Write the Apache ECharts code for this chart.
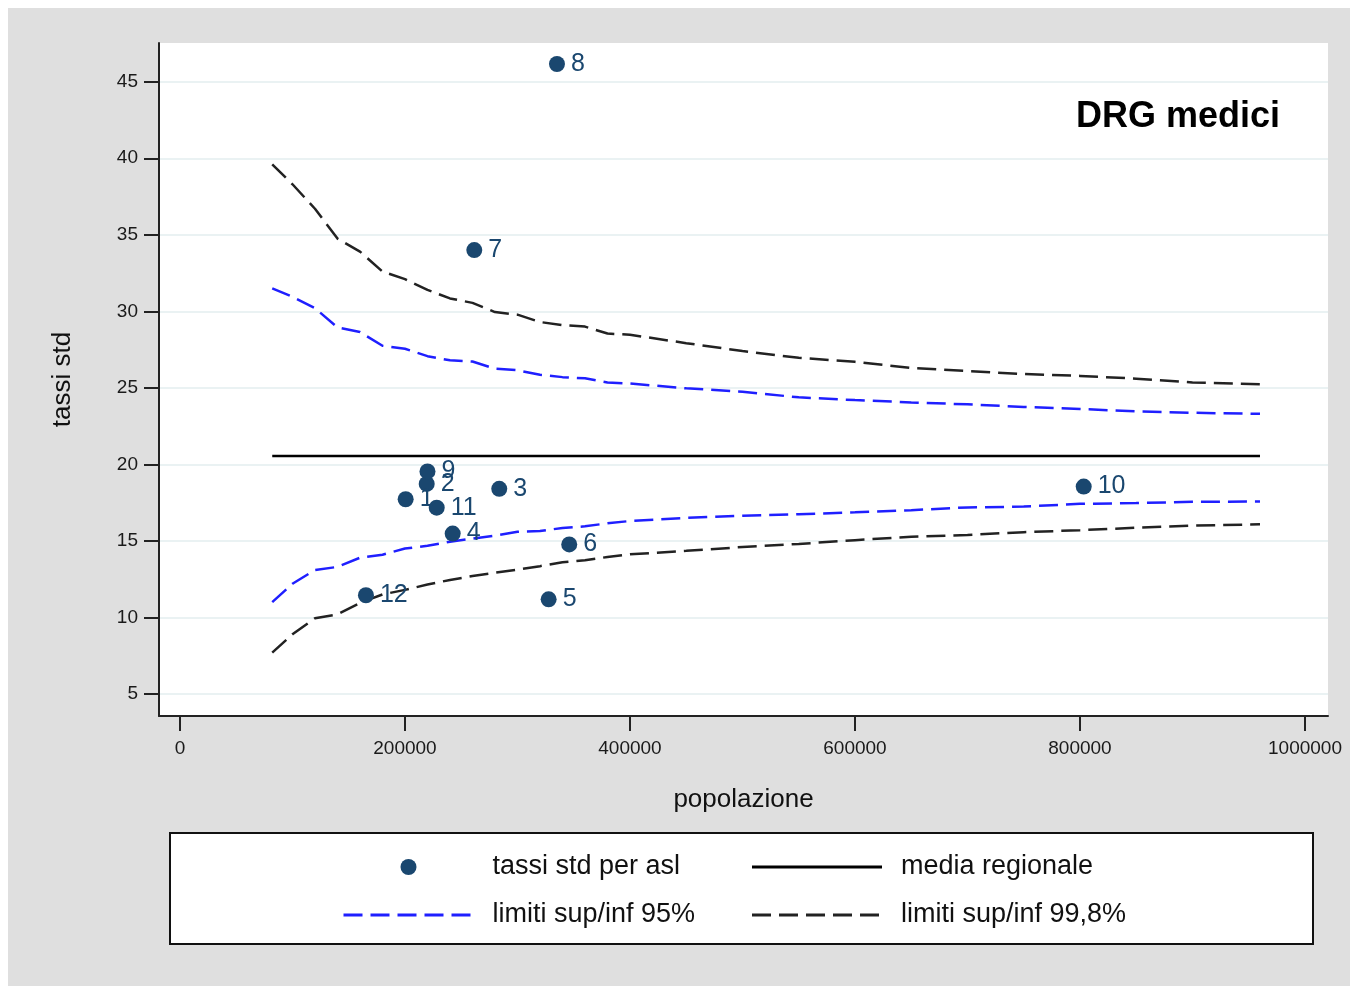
<!DOCTYPE html>
<html><head><meta charset="utf-8">
<script src="https://cdn.jsdelivr.net/npm/echarts@6/dist/echarts.min.js"></script>
<style>
html,body{margin:0;padding:0;background:#fff;width:1350px;height:986px;overflow:hidden}
#chart{position:absolute;left:8px;top:8px;width:1342px;height:978px}
</style>
</head><body><div id="chart"></div>
<script>
// ---- data ----
const aslLabels = ['1','2','3','4','5','6','7','8','9','10','11','12'];
const aslPop    = [200600, 219300, 283800, 242400, 327700, 346000, 261600, 335100, 220000, 803300, 228200, 165300];
const aslRate   = [17.72, 18.72, 18.40, 15.48, 11.18, 14.77, 34.00, 46.16, 19.54, 18.55, 17.17, 11.45];

const meanPop  = [82000, 960000];
const meanRate = 20.54;

const limitPop = [82000,100000,120000,140000,160000,180000,200000,220000,240000,260000,280000,300000,320000,340000,360000,380000,400000,450000,500000,550000,600000,650000,700000,750000,800000,850000,900000,960000];
const upper998 = [39.6,38.3,36.7,34.75,33.9,32.6,32.1,31.4,30.84,30.55,29.95,29.78,29.3,29.1,29.0,28.55,28.47,27.92,27.4,26.96,26.7,26.3,26.1,25.9,25.78,25.6,25.35,25.24];
const upper95  = [31.5,30.95,30.2,28.95,28.65,27.75,27.55,27.07,26.8,26.72,26.25,26.15,25.85,25.7,25.62,25.35,25.28,24.97,24.74,24.38,24.2,24.05,23.92,23.75,23.62,23.46,23.37,23.3];
const lower95  = [11.0,12.2,13.1,13.3,13.9,14.1,14.5,14.68,14.95,15.15,15.35,15.6,15.64,15.85,15.95,16.15,16.3,16.5,16.65,16.74,16.87,17.01,17.19,17.24,17.42,17.47,17.55,17.58];
const lower998 = [7.7,8.9,9.95,10.2,10.95,11.5,11.8,12.15,12.45,12.7,12.92,13.12,13.35,13.6,13.73,13.95,14.12,14.35,14.6,14.8,15.05,15.27,15.39,15.57,15.7,15.86,16.0,16.08];

const xTicks = [0, 200000, 400000, 600000, 800000, 1000000];
const yTicks = [5, 10, 15, 20, 25, 30, 35, 40, 45];

const legendNames = ['tassi std per asl', 'media regionale', 'limiti sup/inf 95%', 'limiti sup/inf 99,8%'];

// ---- build ----
const FONT = '"Liberation Sans", Arial, Helvetica, sans-serif';
const NAVY = '#1a476f';
const BLUE = '#1f1fff';
const DARK = '#222222';
const pair = (xs, ys) => xs.map((x, i) => [x, ys[i]]);

const chart = echarts.init(document.getElementById('chart'), null, {renderer: 'canvas'});
const lineBase = (name, data, color, dashed) => ({
  name, type: 'line', data, symbol: 'none', showSymbol: false, smooth: false,
  lineStyle: {color, width: 2.5, type: dashed ? [19, 8] : 'solid'},
  itemStyle: {color}, z: 2, silent: true
});
const noDot = {opacity: 0};

chart.setOption({
  animation: false,
  backgroundColor: '#dfdfdf',
  textStyle: {fontFamily: FONT},
  title: {
    text: 'DRG medici', right: 70, top: 91, padding: 0,
    textStyle: {fontFamily: FONT, fontSize: 36, fontWeight: 'bold', color: '#000'}
  },
  grid: {left: 151, right: 22, top: 35, bottom: 270, show: true, backgroundColor: '#ffffff', borderWidth: 0},
  xAxis: {
    type: 'value', min: -18650, max: 1020450,
    name: 'popolazione', nameLocation: 'middle', nameGap: 71,
    nameTextStyle: {fontFamily: FONT, fontSize: 26, color: '#111'},
    axisLine: {show: true, onZero: false, lineStyle: {color: DARK, width: 2}},
    axisTick: {show: true, length: 15, lineStyle: {color: DARK, width: 2}, customValues: xTicks},
    axisLabel: {customValues: xTicks, margin: 23, fontSize: 19, color: '#1a1a1a', fontFamily: FONT, formatter: v => String(v)},
    splitLine: {show: false}
  },
  yAxis: {
    type: 'value', min: 3.56, max: 47.53,
    name: 'tassi std', nameLocation: 'middle', nameGap: 83,
    nameTextStyle: {fontFamily: FONT, fontSize: 26, color: '#111'},
    axisLine: {show: true, onZero: false, lineStyle: {color: DARK, width: 2}},
    axisTick: {show: true, length: 15, lineStyle: {color: DARK, width: 2}, customValues: yTicks},
    axisLabel: {customValues: yTicks, margin: 21, fontSize: 19, color: '#1a1a1a', fontFamily: FONT, formatter: v => String(v)},
    splitLine: {show: true, lineStyle: {color: '#eaf2f3', width: 2}}
  },
  legend: {
    data: [
      {name: legendNames[0], icon: 'circle'},
      {name: legendNames[1], itemStyle: noDot},
      {name: legendNames[2], itemStyle: noDot},
      {name: legendNames[3], itemStyle: noDot}
    ],
    orient: 'horizontal', left: 162, top: 825, width: 820,
    padding: [20, 174, 15, 172], itemGap: 20, itemWidth: 130, itemHeight: 16,
    backgroundColor: '#ffffff', borderColor: '#111', borderWidth: 2, borderRadius: 0,
    selectedMode: false,
    lineStyle: {width: 3},
    textStyle: {fontFamily: FONT, fontSize: 27, color: '#111', width: 238, lineHeight: 28, padding: [0, 0, 0, 14]}
  },
  series: [
    lineBase(legendNames[1], pair(meanPop, meanPop.map(() => meanRate)), '#000', false),
    lineBase(legendNames[2], pair(limitPop, upper95), BLUE, true),
    lineBase(legendNames[2], pair(limitPop, lower95), BLUE, true),
    lineBase(legendNames[3], pair(limitPop, upper998), DARK, true),
    lineBase(legendNames[3], pair(limitPop, lower998), DARK, true),
    {
      name: legendNames[0], type: 'scatter', symbol: 'circle', symbolSize: 16, z: 5,
      itemStyle: {color: NAVY, opacity: 1},
      data: aslLabels.map((l, i) => ({name: l, value: [aslPop[i], aslRate[i]]})),
      label: {show: true, position: 'right', distance: 6, formatter: '{b}', fontSize: 25, color: NAVY, fontFamily: FONT}
    }
  ]
});
</script>
</body></html>
